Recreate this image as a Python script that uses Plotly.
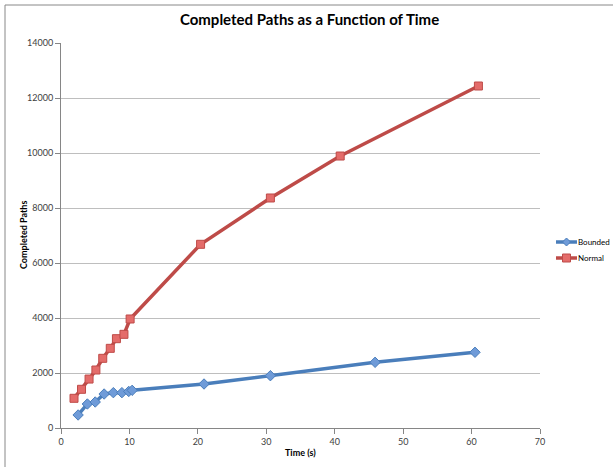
import plotly.graph_objects as go

bounded_x = [2.5, 3.85, 5.0, 6.3, 7.65, 8.9, 9.9, 10.4, 20.9, 30.6, 45.9, 60.5]
bounded_y = [473, 873, 945, 1236, 1285, 1285, 1330, 1370, 1600, 1902, 2389, 2753]
normal_x = [1.9, 3.0, 4.1, 5.1, 6.1, 7.2, 8.1, 9.2, 10.1, 20.4, 30.6, 40.8, 61.0]
normal_y = [1080, 1407, 1780, 2109, 2534, 2897, 3248, 3406, 3964, 6680, 8364, 9890, 12436]

x_ticks = [0, 10, 20, 30, 40, 50, 60, 70]
y_ticks = [0, 2000, 4000, 6000, 8000, 10000, 12000, 14000]
y_ticktext = [str(v) for v in y_ticks]

FONT = "Lato"
BLUE_LINE, BLUE_FILL = "#4A7EBB", "#6F9BD8"
RED_LINE, RED_FILL = "#BE4B48", "#E46C6A"

W, H = 613, 467
ML, MR, MT, MB = 61, 73, 43, 39
PW, PH = W - ML - MR, H - MT - MB

def px(xp):
    return (xp - ML) / PW

def py(yp):
    return (H - MB - yp) / PH

fig = go.Figure()
fig.add_trace(go.Scatter(
    x=bounded_x, y=bounded_y, name="Bounded", mode="lines+markers",
    line=dict(color=BLUE_LINE, width=3.5),
    marker=dict(symbol="diamond", size=8, color=BLUE_FILL, line=dict(color=BLUE_LINE, width=1)),
))
fig.add_trace(go.Scatter(
    x=normal_x, y=normal_y, name="Normal", mode="lines+markers",
    line=dict(color=RED_LINE, width=3.5),
    marker=dict(symbol="square", size=8, color=RED_FILL, line=dict(color=RED_LINE, width=1)),
))

fig.update_layout(
    width=W, height=H,
    margin=dict(l=ML, r=MR, t=MT, b=MB),
    paper_bgcolor="white", plot_bgcolor="white",
    font=dict(family=FONT, size=9, color="#404040"),
    title=dict(text="<b>Completed Paths as a Function of Time</b>", x=0.505, xanchor="center",
               xref="container", yref="container", y=1 - 20 / H, yanchor="middle",
               font=dict(family=FONT, size=15, color="#000000")),
    showlegend=False,
    xaxis=dict(range=[0, 70], tickvals=x_ticks, showgrid=False, zeroline=False,
               showline=True, linecolor="#868686", linewidth=1,
               ticks="outside", ticklen=5, tickcolor="#868686", automargin=False,
               tickfont=dict(family=FONT, size=9, color="#404040")),
    yaxis=dict(range=[0, 14000], tickvals=y_ticks, ticktext=y_ticktext, showgrid=True,
               gridcolor="#BEBEBE", gridwidth=1,
               zeroline=False, showline=True, linecolor="#868686", linewidth=1,
               ticks="outside", ticklen=5, tickcolor="#868686", automargin=False,
               tickfont=dict(family=FONT, size=9, color="#404040")),
)

# axis titles
fig.add_annotation(xref="paper", yref="paper", x=px(300), y=py(452),
                   xanchor="center", yanchor="middle", showarrow=False,
                   text="<b>Time (s)</b>", font=dict(family=FONT, size=9, color="#000000"))
fig.add_annotation(xref="paper", yref="paper", x=px(23), y=py(235),
                   xanchor="center", yanchor="middle", showarrow=False, textangle=-90,
                   text="<b>Completed Paths</b>", font=dict(family=FONT, size=9, color="#000000"))

# chart border
fig.add_shape(type="rect", xref="paper", yref="paper",
              x0=px(5), x1=px(640), y0=py(490), y1=py(5),
              line=dict(color="#888888", width=1), fillcolor="rgba(0,0,0,0)", layer="below")

# legend (drawn manually so it doesn't shrink the plot area)
legend_items = [("Bounded", 242, BLUE_LINE, BLUE_FILL, "diamond"),
                ("Normal", 258, RED_LINE, RED_FILL, "square")]
for name, ypix, lc, fc, sym in legend_items:
    fig.add_shape(type="line", xref="paper", yref="paper",
                  x0=px(556), x1=px(577), y0=py(ypix), y1=py(ypix),
                  line=dict(color=lc, width=3.5))
    cx, cy = 566.5, ypix
    if sym == "diamond":
        path = (f"M {px(cx-4)} {py(cy)} L {px(cx)} {py(cy-4)} L {px(cx+4)} {py(cy)} "
                f"L {px(cx)} {py(cy+4)} Z")
        fig.add_shape(type="path", xref="paper", yref="paper", path=path,
                      fillcolor=fc, line=dict(color=lc, width=1))
    else:
        fig.add_shape(type="rect", xref="paper", yref="paper",
                      x0=px(cx-4), x1=px(cx+4), y0=py(cy+4), y1=py(cy-4),
                      fillcolor=fc, line=dict(color=lc, width=1))
    fig.add_annotation(xref="paper", yref="paper", x=px(576), y=py(ypix),
                       xanchor="left", yanchor="middle", showarrow=False,
                       text=name, font=dict(family=FONT, size=8, color="#000000"))

fig.write_html("out.html", config={"displayModeBar": False},
               post_script="document.body.style.margin='0';document.body.style.overflow='hidden';")
